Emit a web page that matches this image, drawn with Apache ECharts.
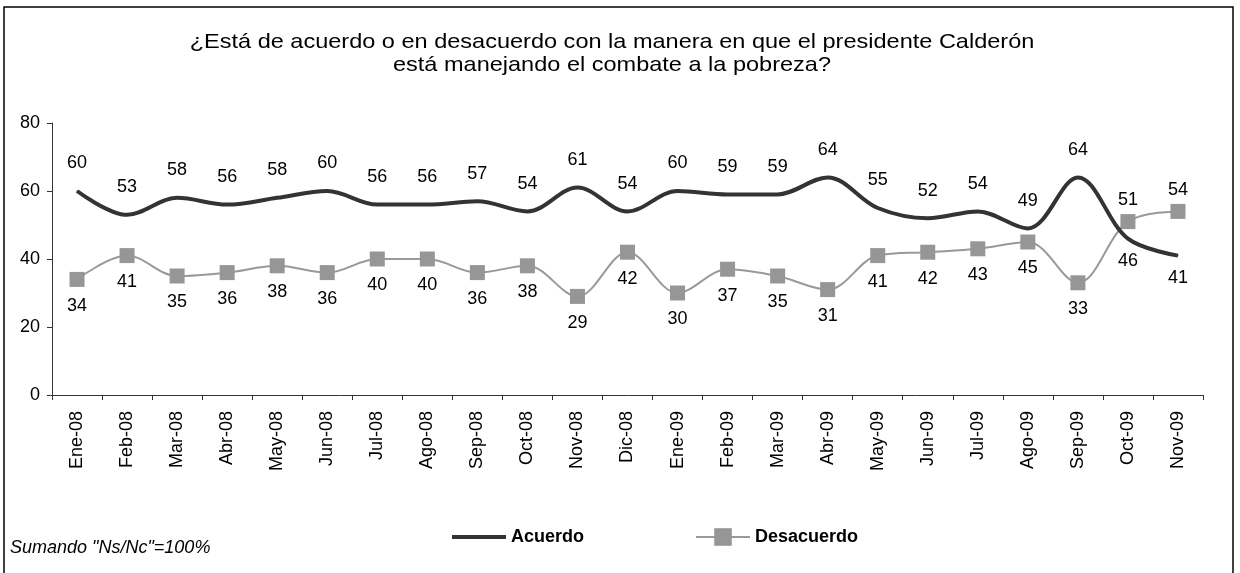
<!DOCTYPE html>
<html>
<head>
<meta charset="utf-8">
<script src="https://cdn.jsdelivr.net/npm/echarts@6/dist/echarts.min.js"></script>
<style>
html,body{margin:0;padding:0;background:#fff;}
#c{width:1240px;height:573px;}
</style>
</head>
<body>
<div id="c"></div>
<script>
var categories = ["Ene-08","Feb-08","Mar-08","Abr-08","May-08","Jun-08","Jul-08","Ago-08","Sep-08","Oct-08","Nov-08","Dic-08","Ene-09","Feb-09","Mar-09","Abr-09","May-09","Jun-09","Jul-09","Ago-09","Sep-09","Oct-09","Nov-09"];
var acuerdo = [60,53,58,56,58,60,56,56,57,54,61,54,60,59,59,64,55,52,54,49,64,46,41];
var desacuerdo = [34,41,35,36,38,36,40,40,36,38,29,42,30,37,35,31,41,42,43,45,33,51,54];
var yTicks = [0,20,40,60,80];
var titleText = '¿Está de acuerdo o en desacuerdo con la manera en que el presidente Calderón\nestá manejando el combate a la pobreza?';

var font = '"Liberation Sans", Arial, sans-serif';
var chart = echarts.init(document.getElementById('c'));

var acData = acuerdo.map(function(v,i){
  var below = v < desacuerdo[i];
  return {value:v, label:{position: below ? 'bottom' : 'top', distance: below ? 13 : 18}};
});
var deData = desacuerdo.map(function(v,i){
  var above = v > acuerdo[i];
  return {value:v, label:{position: above ? 'top' : 'bottom', distance: above ? 5 : 10}};
});

chart.setOption({
  animation:false,
  backgroundColor:'#fff',
  graphic:[
    {type:'rect', shape:{x:4, y:7, width:1229, height:600}, style:{fill:'none', stroke:'#000', lineWidth:1.5}, silent:true},
    {type:'text', x:612, y:31, scaleX:1.12, originX:0, style:{text:titleText, textAlign:'center', textVerticalAlign:'top', font:'21px "Liberation Sans", Arial, sans-serif', lineHeight:23, fill:'#000'}},
    {type:'text', left:10, top:539, style:{text:'Sumando "Ns/Nc"=100%', font:'italic 18px "Liberation Sans", Arial, sans-serif', fill:'#000'}}
  ],
  legend:[
    {
      left:447, top:523, itemWidth:54, itemHeight:4, icon:'rect',
      itemStyle:{color:'#333'},
      textStyle:{fontFamily:font, fontSize:18, fontWeight:'bold', color:'#000'},
      data:['Acuerdo']
    },
    {
      left:690, top:523, itemWidth:54, itemHeight:22,
      textStyle:{fontFamily:font, fontSize:18, fontWeight:'bold', color:'#000'},
      data:['Desacuerdo']
    }
  ],
  grid:{left:52, right:37, top:123, bottom:178},
  xAxis:{
    type:'category', data:categories, boundaryGap:true,
    axisLine:{lineStyle:{color:'#333', width:1}},
    axisTick:{show:true, length:5, lineStyle:{color:'#333'}},
    axisLabel:{rotate:90, fontFamily:font, fontSize:18, color:'#000', margin:16}
  },
  yAxis:{
    type:'value', min:yTicks[0], max:yTicks[yTicks.length-1], interval:20,
    axisLine:{show:true, lineStyle:{color:'#333', width:1}},
    axisTick:{show:true, length:5, lineStyle:{color:'#333'}},
    splitLine:{show:false},
    axisLabel:{fontFamily:font, fontSize:18, color:'#000', margin:12}
  },
  series:[
    {
      name:'Acuerdo', type:'line', data:acData, smooth:0.35,
      symbol:'circle', symbolSize:1, showSymbol:true,
      lineStyle:{color:'#333', width:4},
      itemStyle:{color:'#333'},
      label:{show:true, fontFamily:font, fontSize:18, color:'#000'},
      z:3
    },
    {
      name:'Desacuerdo', type:'line', data:deData, smooth:0.35,
      symbol:'rect', symbolSize:15,
      lineStyle:{color:'#999', width:2},
      itemStyle:{color:'#969696'},
      label:{show:true, fontFamily:font, fontSize:18, color:'#000'},
      z:2
    }
  ]
});
</script>
</body>
</html>
